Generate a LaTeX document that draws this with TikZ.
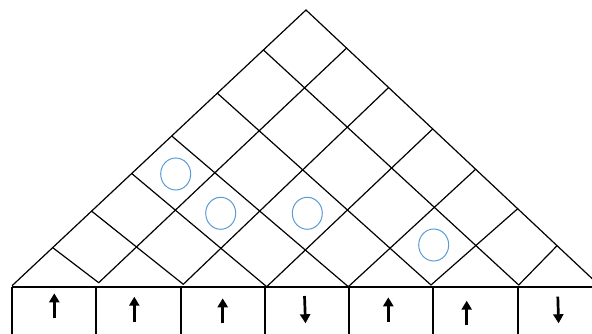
\documentclass[tikz,border=0pt]{standalone}
\usetikzlibrary{arrows.meta,calc,shapes.geometric}
\definecolor{ringblue}{RGB}{91,155,213}
\tikzset{
  lattice/.style={line width=1.2pt, line cap=round},
  cellwall/.style={line width=2pt},
  spin/.style={line width=2.7pt, -{Triangle[width=10pt,length=9pt]}},
  ring/.style={ellipse, draw=ringblue, line width=1pt, minimum width=30pt, minimum height=32pt, inner sep=0pt}
}
\begin{document}
\begin{tikzpicture}[x=1pt,y=-1pt]
\useasboundingbox (0,0) rectangle (592,334);
\clip (0,0) rectangle (592,334);

% outer corners of the pyramid
\coordinate (L0) at (12.3,285.5);
\coordinate (A)  at (306,10);
\coordinate (R0) at (600,286);

% division points on the left side
\coordinate (L1) at ($(L0)!0.1375!(A)$);
\coordinate (L2) at ($(L0)!0.270!(A)$);
\coordinate (L3) at ($(L0)!0.4065!(A)$);
\coordinate (L4) at ($(L0)!0.5428!(A)$);
\coordinate (L5) at ($(L0)!0.698!(A)$);
\coordinate (L6) at ($(L0)!0.855!(A)$);

% division points on the right side
\coordinate (R6) at ($(A)!0.138!(R0)$);
\coordinate (R5) at ($(A)!0.281!(R0)$);
\coordinate (R4) at ($(A)!0.431!(R0)$);
\coordinate (R3) at ($(A)!0.577!(R0)$);
\coordinate (R2) at ($(A)!0.720!(R0)$);
\coordinate (R1) at ($(A)!0.854!(R0)$);

% lower corners where the diagonals meet the row of cells
\coordinate (B1) at (98.7,282.7);
\coordinate (B2) at (183.3,284.3);
\coordinate (B3) at (266.7,286.7);
\coordinate (B4) at (348.3,286.7);
\coordinate (B5) at (431,285);
\coordinate (B6) at (518.7,285);

% pyramid sides
\draw[lattice] (L0) -- (A) -- (R0);

% diagonals running down to the right
\foreach \k in {1,...,6} \draw[lattice] (L\k) -- (B\k);
% diagonals running down to the left
\draw[lattice] (R1) -- (B6);
\draw[lattice] (R2) -- (B5);
\draw[lattice] (R3) -- (B4);
\draw[lattice] (R4) -- (B3);
\draw[lattice] (R5) -- (B2);
\draw[lattice] (R6) -- (B1);

% marked plaquettes
\node[ring] (c1) at (175.7,174) {};
\node[ring] (c2) at (220.7,213.3) {};
\node[ring] (c3) at (307.3,213.3) {};
\node[ring] (c4) at (433.7,245) {};

% row of cells
\coordinate (T0) at (12,287.3);
\coordinate (T7) at (592,287.3);
\draw[cellwall] (T0) -- (T7);
\foreach \x [count=\i] in {12,96,181,265.3,349.3,433,518} {
  \coordinate (W\i) at (\x,287.3);
  \coordinate (V\i) at (\x,336);
  \draw[cellwall] (W\i) -- (V\i);
}

% spins
\coordinate (s1a) at (54.3,318.3);  \coordinate (s1b) at (54.3,293.3);
\coordinate (s2a) at (134.3,321.7); \coordinate (s2b) at (134.3,296.7);
\coordinate (s3a) at (222.7,323.3); \coordinate (s3b) at (222.7,298.3);
\coordinate (s4a) at (304.5,296);   \coordinate (s4b) at (305.5,323.3);
\coordinate (s5a) at (388.3,321.7); \coordinate (s5b) at (388.3,297.3);
\coordinate (s6a) at (466.7,325);   \coordinate (s6b) at (466.7,300.7);
\coordinate (s7a) at (557.8,296.7); \coordinate (s7b) at (558.6,323.3);
\foreach \i in {1,...,7} \draw[spin] (s\i a) -- (s\i b);
\end{tikzpicture}
\end{document}
